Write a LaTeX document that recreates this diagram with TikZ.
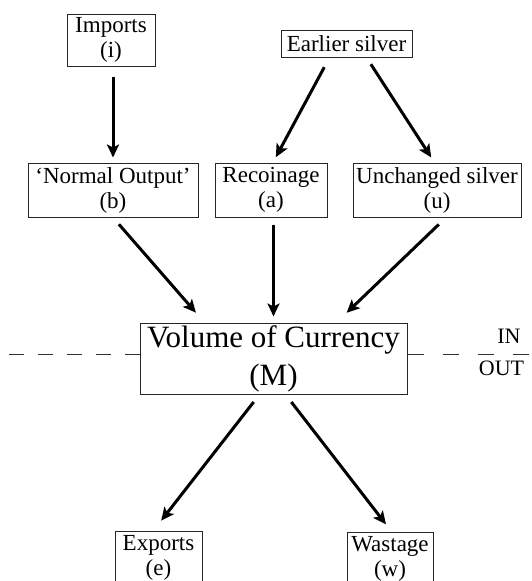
\documentclass[tikz,border=0pt]{standalone}
\usepackage{fontspec}
\setmainfont{Liberation Serif}
\usetikzlibrary{arrows.meta, positioning}

\begin{document}
\begin{tikzpicture}[x=1pt, y=1pt,
    boxblock/.style={rectangle, draw=black!85, line width=1pt, align=center, inner sep=0pt, minimum height=54pt, font=\fontsize{23}{25}\selectfont},
    bigblock/.style={rectangle, draw=black!85, line width=1pt, align=center, inner sep=0pt, minimum width=267pt, minimum height=71pt, font=\fontsize{31}{38}\selectfont},
    arrow/.style={draw=black, line width=3pt, -{Stealth[length=13pt, width=12pt, inset=3pt]}},
    divider/.style={draw=black!80, line width=1pt, dash pattern=on 15pt off 14pt},
    sidelabel/.style={font=\fontsize{22}{24}\selectfont, inner sep=0pt, anchor=base}]

    \clip (0,0) rectangle (531,-581);

    \node [bigblock] (vol) at (273.5,-358.5) {Volume of Currency\\(M)};

    \node [boxblock, minimum width=112pt, above=105pt of vol, xshift=-2.5pt] (recoin) {Recoinage\\(a)};
    \node [boxblock, minimum width=170pt, left=16pt of recoin] (normal) {`Normal Output'\\(b)};
    \node [boxblock, minimum width=168pt, right=25pt of recoin] (unch) {Unchanged silver\\(u)};

    \node [boxblock, minimum width=88pt, minimum height=52pt, above=96pt of normal, xshift=-2pt] (imports) {Imports\\(i)};
    \node [boxblock, minimum width=131pt, minimum height=27pt, above=105pt of recoin, xshift=75.5pt] (earlier) {Earlier silver};

    \node [boxblock, minimum width=87pt, below=136pt of vol, xshift=-115pt] (exports) {Exports\\(e)};
    \node [boxblock, minimum width=86pt, below=137pt of vol, xshift=116.5pt] (wastage) {Wastage\\(w)};

    \coordinate (lend) at (9,-354);
    \coordinate (rend) at (531,-354);
    \draw [divider] (vol.west |- lend) -- (lend);
    \draw [divider, dash pattern=on 16pt off 19pt] (vol.east |- rend) -- (rend);
    \node [sidelabel] (inlbl) at (509,-343) {IN};
    \node [sidelabel] (outlbl) at (501.5,-375) {OUT};

    \draw [arrow, shorten <=10pt, shorten >=5pt] ([xshift=2pt]imports.south) -- (normal.north);
    \draw [arrow, shorten <=11pt, shorten >=6pt] ([xshift=-17pt]earlier.south) -- ([xshift=2pt]recoin.north);
    \draw [arrow, shorten <=8pt, shorten >=6pt] ([xshift=20pt]earlier.south) -- ([xshift=-2.5pt]unch.north);
    \draw [arrow, shorten <=9pt, shorten >=13pt] (normal.south) -- ([xshift=-69pt]vol.north);
    \draw [arrow, shorten <=7pt, shorten >=6pt] ([xshift=2.5pt]recoin.south) -- (vol.north);
    \draw [arrow, shorten <=10pt, shorten >=14pt] ([xshift=9pt]unch.south) -- ([xshift=63pt]vol.north);
    \draw [arrow, shorten <=9.5pt, shorten >=12.5pt] ([xshift=-14pt]vol.south) -- ([xshift=-5pt]exports.north);
    \draw [arrow, shorten <=9.5pt, shorten >=9pt] ([xshift=12pt]vol.south) -- ([xshift=1.5pt]wastage.north);

\end{tikzpicture}
\end{document}
